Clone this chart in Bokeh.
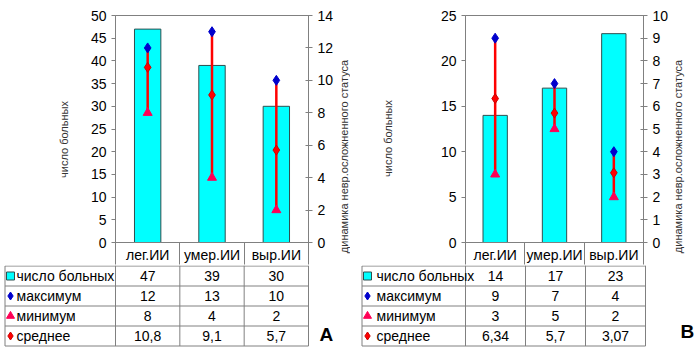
import math
from bokeh.plotting import figure
from bokeh.layouts import row, column
from bokeh.models import Range1d, LinearAxis, SingleIntervalTicker, FixedTicker
from bokeh.core.properties import value
from bokeh.embed import file_html
from bokeh.resources import INLINE

# ---------------- data ----------------
categories = ["лег.ИИ", "умер.ИИ", "выр.ИИ"]
series_names = ["число больных", "максимум", "минимум", "среднее"]
left_axis_title = "число больных"
right_axis_title = "динамика невр.осложненного статуса"

a_count = [47, 39, 30]
a_max = [12, 13, 10]
a_min = [8, 4, 2]
a_mean = [10.8, 9.1, 5.7]

b_count = [14, 17, 23]
b_max = [9, 7, 4]
b_min = [3, 5, 2]
b_mean = [6.34, 5.7, 3.07]

FONT_NAME = "Liberation Sans"
FONT = value(FONT_NAME)
FS = "14px"
GRAY = "#808080"
CYAN = "#00FFFF"
BAR_LINE = "#2F4F4F"
MAX_C = "#0000CC"
MIN_C = "#FF0055"
MEAN_C = "#FF0000"

PW = 350            # panel width
LT_W = 75           # width of the strip holding the left axis title
FRAME_TOP = 15
FRAME_BOTTOM = 243
FRAME_LEFT = 115    # in panel pixels
CH = 265            # chart height (plot area + header row)
TH = 85             # table height
HDR = CH - FRAME_BOTTOM

xc = [i + 0.5 for i in range(len(categories))]
xb = [float(i) for i in range(len(categories) + 1)]


def fmt(v):
    return str(v).replace(".", ",")


def no_align(fig):
    if "frame_align" in fig.properties():
        fig.frame_align = False


def blank_fig(w, h, xr, yr):
    f = figure(width=w, height=h, x_range=xr, y_range=yr,
               output_backend="svg", toolbar_location=None,
               x_axis_location=None, y_axis_location=None,
               min_border=0, outline_line_color=None)
    no_align(f)
    f.grid.visible = False
    f.background_fill_color = "white"
    f.border_fill_color = "white"
    return f


def title_strip(w, txt, px, py):
    f = blank_fig(w, CH, Range1d(0, w), Range1d(CH, 0))
    f.text(x=[px], y=[py], text=[txt], angle=math.pi / 2, text_align="center",
           text_baseline="middle", text_font=FONT, text_font_size="11px",
           text_color="#333333")
    return f


def style_axis(ax, tick_in):
    ax.axis_line_color = GRAY
    ax.major_tick_line_color = GRAY
    ax.minor_tick_line_color = None
    ax.major_tick_in = tick_in
    ax.major_tick_out = 4
    ax.major_label_standoff = 5
    ax.major_label_text_font = FONT_NAME
    ax.major_label_text_font_size = FS
    ax.major_label_text_color = "black"


def make_chart(count, mx, mn, mean, y1_end, y1_step, y2_end, y2_step,
               frame_right, chart_right):
    p = figure(width=chart_right - LT_W, height=CH,
               x_range=Range1d(0, len(categories)),
               y_range=Range1d(0, y1_end),
               output_backend="svg", toolbar_location=None,
               x_axis_location="below", y_axis_location="left",
               min_border_left=FRAME_LEFT - LT_W,
               min_border_right=chart_right - frame_right,
               min_border_top=FRAME_TOP, min_border_bottom=HDR)
    no_align(p)
    p.grid.visible = False
    p.outline_line_color = GRAY
    p.background_fill_color = "white"
    p.border_fill_color = "white"

    # x axis = header row of the data table (category names + column separators)
    xa = p.xaxis[0]
    xa.ticker = FixedTicker(ticks=xc, minor_ticks=xb)
    xa.major_label_overrides = {x: c for x, c in zip(xc, categories)}
    xa.axis_line_color = GRAY
    xa.major_tick_line_color = None
    xa.major_tick_in = 0
    xa.major_tick_out = 0
    xa.minor_tick_line_color = GRAY
    xa.minor_tick_in = 0
    xa.minor_tick_out = HDR
    xa.major_label_standoff = 4 - HDR
    xa.major_label_text_font = FONT_NAME
    xa.major_label_text_font_size = FS
    xa.major_label_text_color = "black"

    p.yaxis.ticker = SingleIntervalTicker(interval=y1_step)
    style_axis(p.yaxis[0], 0)

    p.extra_y_ranges = {"y2": Range1d(0, y2_end)}
    ax2 = LinearAxis(y_range_name="y2", ticker=SingleIntervalTicker(interval=y2_step))
    style_axis(ax2, 3)
    p.add_layout(ax2, "right")

    p.vbar(x=xc, top=count, width=0.41, fill_color=CYAN,
           line_color=BAR_LINE, line_width=1)
    p.segment(x0=xc, y0=mn, x1=xc, y1=mx, y_range_name="y2",
              line_color=MEAN_C, line_width=2.5)
    p.scatter(x=xc, y=mn, y_range_name="y2", marker="triangle", size=9,
              fill_color=MIN_C, line_color=MIN_C)
    p.scatter(x=xc, y=mean, y_range_name="y2", marker="diamond", size=10,
              fill_color=MEAN_C, line_color="#CC0000")
    p.scatter(x=xc, y=mx, y_range_name="y2", marker="diamond", size=10,
              fill_color=MAX_C, line_color=MAX_C)
    return p


def make_table(count, mx, mn, mean, frame_right, left_px, marker_px, text_px,
               letter, letter_px, letter_py):
    unit = (frame_right - FRAME_LEFT) / 3.0

    def dx(px):
        return (px - FRAME_LEFT) / unit

    t = blank_fig(PW, TH, Range1d(dx(0), dx(PW)), Range1d(TH, 0))

    rows_y = [0.5, 20.5, 40.5, 60.5, 80.5]
    xl = dx(left_px + 0.5)
    n = len(rows_y)
    t.segment(x0=[xl] * n, y0=rows_y, x1=[xb[-1]] * n, y1=rows_y,
              line_color=GRAY, line_width=1)
    t.segment(x0=xb, y0=[0] * len(xb), x1=xb, y1=[rows_y[-1]] * len(xb),
              line_color=GRAY, line_width=1)
    t.segment(x0=[xl], y0=[rows_y[0]], x1=[xl], y1=[rows_y[-1]],
              line_color=GRAY, line_width=1)

    series = [count, mx, mn, mean]
    ys = [10.5 + 20 * i for i in range(len(series))]
    for yc, vals in zip(ys, series):
        t.text(x=xc, y=[yc] * len(xc), text=[fmt(v) for v in vals], text_align="center",
               text_baseline="middle", text_font=FONT, text_font_size=FS,
               text_color="black")
    t.text(x=[dx(text_px)] * len(ys), y=ys, text=series_names, text_align="left",
           text_baseline="middle", text_font=FONT, text_font_size=FS,
           text_color="black")
    mxp = dx(marker_px)
    t.scatter(x=[mxp], y=[ys[0]], marker="square", size=8, fill_color=CYAN,
              line_color=BAR_LINE)
    t.scatter(x=[mxp], y=[ys[1]], marker="diamond", size=8, fill_color=MAX_C,
              line_color=MAX_C)
    t.scatter(x=[mxp], y=[ys[2]], marker="triangle", size=8, fill_color=MIN_C,
              line_color=MIN_C)
    t.scatter(x=[mxp], y=[ys[3]], marker="diamond", size=8, fill_color=MEAN_C,
              line_color="#CC0000")
    t.text(x=[dx(letter_px)], y=[letter_py - CH], text=[letter], text_align="left",
           text_baseline="middle", text_font=FONT, text_font_size="19px",
           text_font_style="bold", text_color="black")
    return t


def make_panel(count, mx, mn, mean, y1_end, y2_end, y2_step, frame_right, chart_right,
               lt_px, lt_py, rt_px, rt_py, left_px, marker_px, text_px,
               letter, letter_px, letter_py):
    lt = title_strip(LT_W, left_axis_title, lt_px, lt_py)
    ch = make_chart(count, mx, mn, mean, y1_end, 5, y2_end, y2_step, frame_right, chart_right)
    rt = title_strip(PW - chart_right, right_axis_title, rt_px - chart_right, rt_py)
    tb = make_table(count, mx, mn, mean, frame_right, left_px, marker_px, text_px,
                    letter, letter_px, letter_py)
    return column(row(lt, ch, rt), tb)


panel_a = make_panel(a_count, a_max, a_min, a_mean, 50, 14, 2, 308, 336,
                     63, 139, 343, 156, 4, 10, 16, "A", 319, 334)
panel_b = make_panel(b_count, b_max, b_min, b_mean, 25, 10, 1, 295, 321,
                     37, 138, 327, 156, 11, 17, 26, "B", 330, 331)

layout = row(panel_a, panel_b)

open("out.html", "w").write(file_html(layout, INLINE))
